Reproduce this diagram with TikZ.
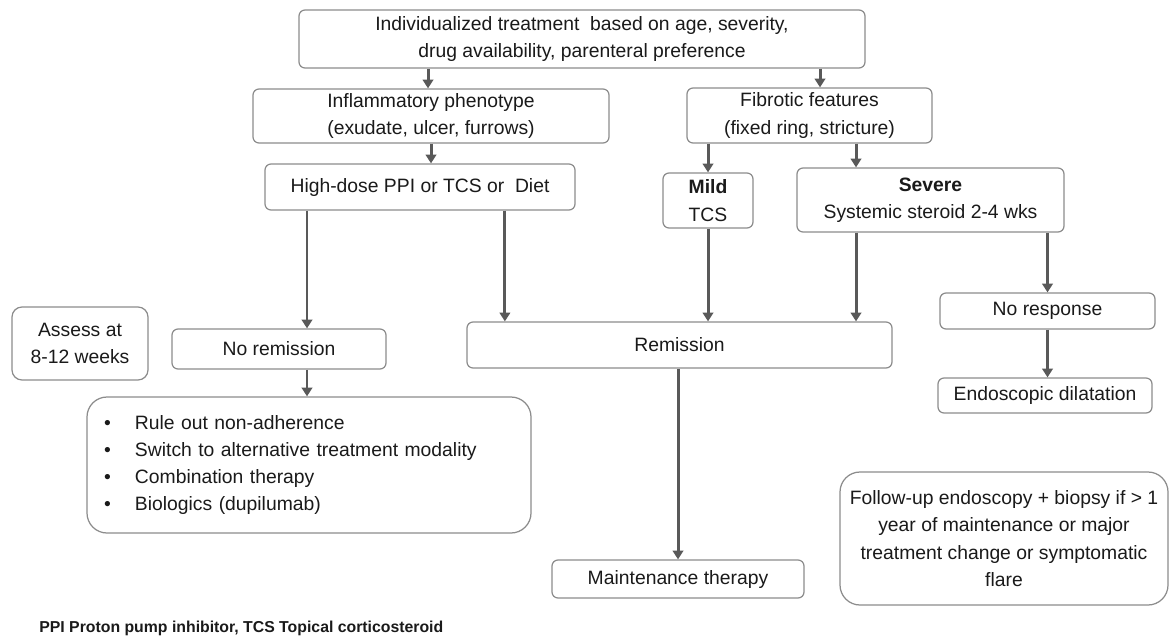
\documentclass[tikz,border=0pt]{standalone}
\usepackage{fontspec}
\setmainfont{Liberation Sans}
\usepackage{xcolor}
\usepackage{tikz}
\usetikzlibrary{arrows.meta, positioning, calc}
\definecolor{boxline}{HTML}{8C8C8C}
\definecolor{arrowgray}{HTML}{595959}
\definecolor{textdark}{HTML}{1A1A1A}

\begin{document}
\begin{tikzpicture}[
    box/.style={draw=boxline, line width=0.7pt, rounded corners=0.12cm, fill=white, text=textdark, font=\fontsize{11}{15.5}\selectfont, align=center, inner sep=0pt},
    roundbox/.style={box, rounded corners=0.4cm},
    arr/.style={draw=arrowgray, line width=1.7pt, -{Triangle[length=5pt, width=6pt]}}
]
    \useasboundingbox (0,0) rectangle (23.42,-12.76);

    % Top
    \node[box, minimum width=11.32cm, minimum height=1.16cm] (start) at (11.64,-0.78) {Individualized treatment\ \ based on age, severity,\\drug availability, parenteral preference};

    % Phenotypes
    \node[box, minimum width=7.12cm, minimum height=1.08cm] (inflam) at (8.62,-2.32) {Inflammatory phenotype\\(exudate, ulcer, furrows)};
    \node[box, minimum width=4.9cm, minimum height=1.1cm] (fibro) at (16.19,-2.31) {Fibrotic features\\(fixed ring, stricture)};

    % Treatment
    \node[box, minimum width=6.2cm, minimum height=0.92cm] (highdose) at (8.40,-3.74) {High-dose PPI\ or TCS or\ \ Diet};
    \node[box, minimum width=1.8cm, minimum height=1.1cm] (mild) at (14.16,-4.01) {\textbf{Mild}\\TCS};
    \node[box, minimum width=5.34cm, minimum height=1.28cm] (severe) at (18.61,-4.0) {\textbf{Severe}\\Systemic steroid 2-4 wks};

    % Assessment
    \node[box, rounded corners=0.2cm, minimum width=2.72cm, minimum height=1.46cm] (assess) at (1.6,-6.87) {Assess at\\8-12 weeks};
    \node[box, minimum width=4.28cm, minimum height=0.8cm] (noremit) at (5.58,-6.98) {No remission};
    \node[box, minimum width=8.5cm, minimum height=0.92cm] (remit) at (13.59,-6.9) {Remission};
    \node[box, minimum width=4.3cm, minimum height=0.72cm] (noresp) at (20.95,-6.22) {No response};
    \node[box, minimum width=4.28cm, minimum height=0.7cm] (dilat) at (20.9,-7.91) {Endoscopic dilatation};

    % Follow-on
    \node[roundbox, align=left, text width=8.2cm, inner xsep=0.34cm, minimum height=2.72cm] (options) at (6.18,-9.3) {%
        \makebox[0.62cm][l]{\textbullet}Rule out non-adherence\\
        \makebox[0.62cm][l]{\textbullet}Switch to alternative treatment modality\\
        \makebox[0.62cm][l]{\textbullet}Combination therapy\\
        \makebox[0.62cm][l]{\textbullet}Biologics (dupilumab)};
    \node[box, minimum width=5.04cm, minimum height=0.76cm] (maint) at (13.56,-11.58) {Maintenance therapy};
    \node[roundbox, minimum width=6.56cm, minimum height=2.66cm] (followup) at (20.08,-10.77) {Follow-up endoscopy + biopsy if > 1\\year of maintenance or major\\treatment change or symptomatic\\flare};

    \node[anchor=west, text=textdark, font=\bfseries\fontsize{9}{11}\selectfont, inner sep=0pt] (abbrev) at (0.78,-12.56) {PPI Proton pump inhibitor, TCS Topical corticosteroid};

    % Arrows
    \draw[arr] ([xshift=-0.06cm]inflam.north |- start.south) -- ([xshift=-0.06cm]inflam.north);
    \draw[arr] ([xshift=0.21cm]fibro.north |- start.south) -- ([xshift=0.21cm]fibro.north);
    \draw[arr] (inflam.south) -- (inflam.south |- highdose.north);
    \draw[arr] (mild.north |- fibro.south) -- (mild.north);
    \draw[arr] ([xshift=-1.49cm]severe.north |- fibro.south) -- ([xshift=-1.49cm]severe.north);
    \draw[arr] ([xshift=0.56cm]noremit.north |- highdose.south) -- ([xshift=0.56cm]noremit.north);
    \draw[arr] ([xshift=0.77cm]remit.north west |- highdose.south) -- ([xshift=0.77cm]remit.north west);
    \draw[arr] (mild.south) -- (mild.south |- remit.north);
    \draw[arr] ([xshift=-1.49cm]severe.south) -- ([xshift=-1.49cm]severe.south |- remit.north);
    \draw[arr] (noresp.north |- severe.south) -- (noresp.north);
    \draw[arr] (noresp.south) -- (noresp.south |- dilat.north);
    \draw[arr] ([xshift=0.56cm]noremit.south) -- ([xshift=0.56cm]noremit.south |- options.north);
    \draw[arr] (maint.north |- remit.south) -- (maint.north);
\end{tikzpicture}
\end{document}
